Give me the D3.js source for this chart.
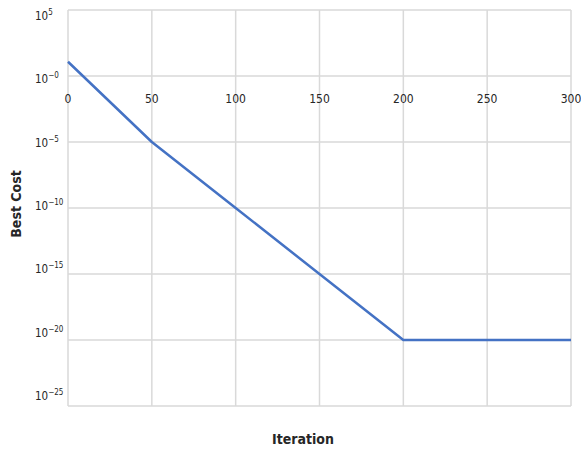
<!DOCTYPE html>
<html>
<head>
<meta charset="utf-8">
<script src="https://cdn.jsdelivr.net/npm/d3@7"></script>
<style>
  html, body { margin: 0; padding: 0; background: #fff; }
  svg { display: block; }
  text { font-family: "Liberation Sans Narrow", "DejaVu Sans Condensed", "Open Sans", sans-serif; fill: #262626; }
</style>
</head>
<body>
<script>
// Data
const iterations = [0, 50, 100, 150, 200, 250, 300];
const bestCost = [12, 1e-5, 1e-10, 1e-15, 1e-20, 1e-20, 1e-20];
const xTicks = [0, 50, 100, 150, 200, 250, 300];
const yTicks = [1e5, 1e0, 1e-5, 1e-10, 1e-15, 1e-20, 1e-25];
const yTickExponents = ["5", "-0", "-5", "-10", "-15", "-20", "-25"];
const xTitle = "Iteration";
const yTitle = "Best Cost";

const W = 581, H = 450;
const svg = d3.select("body").append("svg").attr("width", W).attr("height", H);

const x = d3.scaleLinear().domain([0, 300]).range([68, 571]);
const y = d3.scaleLog().domain([1e5, 1e-25]).range([10, 406]);
const yLabel = d3.scaleLog().domain([1e5, 1e-25]).range([16, 396]);

// gridlines
svg.append("g").selectAll("line.h").data(yTicks).join("line")
  .attr("x1", x(0)).attr("x2", x(300))
  .attr("y1", d => y(d)).attr("y2", d => y(d))
  .attr("stroke", "#d9d9d9").attr("stroke-width", 1.5);
svg.append("g").selectAll("line.v").data(xTicks).join("line")
  .attr("x1", d => x(d)).attr("x2", d => x(d))
  .attr("y1", y(1e5)).attr("y2", y(1e-25))
  .attr("stroke", "#d9d9d9").attr("stroke-width", 1.5);

// y tick labels
const yl = svg.append("g").selectAll("text").data(yTicks).join("text")
  .attr("x", 35).attr("y", d => yLabel(d) + 4)
  .attr("font-size", 11.5);
yl.append("tspan").text("10");
yl.append("tspan").attr("dy", -5).attr("font-size", 8).text((d, i) => yTickExponents[i].replace("-", "\u2212"));

// x tick labels (axis crosses at 1)
svg.append("g").selectAll("text").data(xTicks).join("text")
  .attr("x", d => x(d)).attr("y", y(1) + 27)
  .attr("text-anchor", "middle").attr("font-size", 12)
  .text(d => d);

// line
const line = d3.line().x((d, i) => x(iterations[i])).y(d => y(d));
svg.append("path").datum(bestCost)
  .attr("d", line).attr("fill", "none")
  .attr("stroke", "#4472C4").attr("stroke-width", 2.5)
  .attr("stroke-linejoin", "round");

// titles
svg.append("text").attr("x", 303).attr("y", 444)
  .attr("text-anchor", "middle").attr("font-size", 14).attr("font-weight", "bold")
  .text(xTitle);
svg.append("text").attr("transform", "translate(21,204) rotate(-90)")
  .attr("text-anchor", "middle").attr("font-size", 14).attr("font-weight", "bold")
  .text(yTitle);
</script>
</body>
</html>
